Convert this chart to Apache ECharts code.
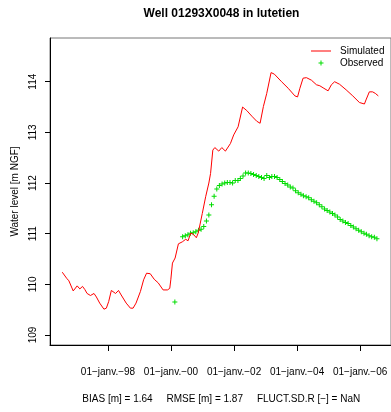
<!DOCTYPE html>
<html>
<head>
<meta charset="utf-8">
<script src="https://cdn.jsdelivr.net/npm/echarts@6/dist/echarts.min.js"></script>
<style>
html,body{margin:0;padding:0;background:#fff;}
#chart{width:391px;height:412px;}
</style>
</head>
<body>
<div id="chart"></div>
<script>
const titleText = 'Well 01293X0048 in lutetien';
const statsText = 'BIAS [m] = 1.64     RMSE [m] = 1.87     FLUCT.SD.R [\u2212] = NaN';
const yAxisName = 'Water level [m NGF]';
const seriesNames = ['Simulated', 'Observed'];

const simDates = [
  '1996-07-20','1996-09-09','1996-10-05','1996-11-24','1996-12-05','1997-01-09','1997-02-09','1997-03-12',
  '1997-04-07','1997-05-04','1997-06-12','1997-07-05','1997-07-23','1997-08-20','1997-09-27','1997-11-15',
  '1997-12-13','1998-01-09','1998-02-09','1998-03-04','1998-03-30','1998-05-03','1998-06-03','1998-07-31',
  '1998-09-18','1998-10-19','1998-11-22','1999-01-12','1999-02-18','1999-03-24','1999-05-06','1999-06-21',
  '1999-08-06','1999-10-02','1999-11-21','1999-12-18','1999-12-30','2000-01-18','2000-02-18','2000-03-27',
  '2000-05-12','2000-06-20','2000-07-17','2000-08-17','2000-09-16','2000-10-21','2000-11-13','2000-12-02',
  '2000-12-29','2001-02-06','2001-03-15','2001-04-04','2001-04-30','2001-05-23','2001-07-08','2001-08-12',
  '2001-09-23','2001-11-20','2001-12-28','2002-02-17','2002-04-10','2002-05-29','2002-07-26','2002-09-21',
  '2002-10-30','2002-12-07','2003-01-15','2003-03-06','2003-04-13','2003-07-06','2003-09-21','2003-12-07',
  '2004-01-07','2004-02-03','2004-03-11','2004-04-19','2004-06-16','2004-08-13','2004-09-21','2004-10-29',
  '2004-12-26','2005-02-02','2005-03-12','2005-05-08','2005-07-23','2005-10-08','2005-12-24','2006-02-20',
  '2006-03-10','2006-04-18','2006-05-26','2006-06-26','2006-07-31'
];
const simValues = [
  110.24,110.12,110.07,109.87,109.86,109.97,109.91,109.96,
  109.90,109.82,109.78,109.80,109.82,109.75,109.63,109.51,
  109.53,109.66,109.88,109.86,109.82,109.88,109.79,109.63,
  109.53,109.53,109.63,109.86,110.09,110.22,110.21,110.10,
  110.03,109.89,109.89,109.92,110.09,110.42,110.52,110.80,
  110.84,110.89,110.86,111.01,110.99,110.92,111.02,111.04,
  111.40,111.73,112.00,112.19,112.65,112.70,112.63,112.70,
  112.63,112.78,112.95,113.11,113.50,113.43,113.32,113.22,
  113.18,113.51,113.77,114.18,114.15,114.00,113.87,113.72,
  113.70,113.87,114.07,114.08,114.03,113.94,113.92,113.88,
  113.82,113.94,114.00,113.95,113.84,113.72,113.59,113.56,
  113.64,113.80,113.80,113.77,113.72
];

const obsDates = [
  '2000-02-15',
  '2000-05-15','2000-06-15','2000-07-15','2000-08-15','2000-09-15','2000-10-15','2000-11-15','2000-12-15',
  '2001-01-15','2001-02-15','2001-03-15','2001-04-15','2001-05-15','2001-06-15','2001-07-15','2001-08-15','2001-09-15','2001-10-15','2001-11-15','2001-12-15',
  '2002-01-15','2002-02-15','2002-03-15','2002-04-15','2002-05-15','2002-06-15','2002-07-15','2002-08-15','2002-09-15','2002-10-15','2002-11-15','2002-12-15',
  '2003-01-15','2003-02-15','2003-03-15','2003-04-15','2003-05-15','2003-06-15','2003-07-15','2003-08-15','2003-09-15','2003-10-15','2003-11-15','2003-12-15',
  '2004-01-15','2004-02-15','2004-03-15','2004-04-15','2004-05-15','2004-06-15','2004-07-15','2004-08-15','2004-09-15','2004-10-15','2004-11-15','2004-12-15',
  '2005-01-15','2005-02-15','2005-03-15','2005-04-15','2005-05-15','2005-06-15','2005-07-15','2005-08-15','2005-09-15','2005-10-15','2005-11-15','2005-12-15',
  '2006-01-15','2006-02-15','2006-03-15','2006-04-15','2006-05-15','2006-06-15','2006-07-15'
];
const obsValues = [
  109.65,
  110.94,110.96,110.98,111.01,111.02,111.04,111.07,111.09,
  111.14,111.25,111.37,111.57,111.74,111.88,111.95,111.98,112.00,112.01,112.01,112.00,
  112.05,112.05,112.09,112.14,112.20,112.20,112.19,112.17,112.15,112.13,112.11,112.09,
  112.15,112.11,112.13,112.13,112.11,112.07,112.03,111.99,111.96,111.92,111.90,111.85,
  111.81,111.78,111.75,111.73,111.71,111.67,111.64,111.61,111.57,111.53,111.49,111.46,
  111.43,111.40,111.37,111.33,111.28,111.25,111.22,111.20,111.16,111.13,111.10,111.07,
  111.04,111.01,110.99,110.96,110.94,110.93,110.90
];

const xTickDates = ['1998-01-01','2000-01-01','2002-01-01','2004-01-01','2006-01-01'];
const yTickValues = [109, 110, 111, 112, 113, 114];

function ts(s) { const p = s.split('-').map(Number); return Date.UTC(p[0], p[1] - 1, p[2]); }
const xTicks = xTickDates.map(ts);

const simData = simDates.map((d, i) => [ts(d), simValues[i]]);
const obsData = obsDates.map((d, i) => [ts(d), obsValues[i]]);

const FONT = 'Liberation Sans, Arial, Helvetica, sans-serif';
const plusPath = 'path://M2,0H3V2H5V3H3V5H2V3H0V2H2Z';
const corners = 'M0,0H0.01V0.01H0Z M19.99,0H20V0.01H19.99Z M0,9.99H0.01V10H0Z M19.99,9.99H20V10H19.99Z';
const legendLineIcon = 'path://M0,4.5H20V5.5H0Z ' + corners;
const legendPlusIcon = 'path://M9.5,2.5H10.5V4.5H12.5V5.5H10.5V7.5H9.5V5.5H7.5V4.5H9.5Z ' + corners;

const chart = echarts.init(document.getElementById('chart'), null, {renderer: 'canvas'});
chart.setOption({
  animation: false,
  backgroundColor: '#ffffff',
  textStyle: {fontFamily: FONT},
  title: [
    {text: titleText, left: 221.5, top: 8, textAlign: 'center', padding: 0,
     textStyle: {fontSize: 12, fontWeight: 'bold', color: '#000', fontFamily: FONT}},
    {text: statsText, left: 221.3, top: 394, textAlign: 'center', padding: 0,
     textStyle: {fontSize: 10, fontWeight: 'normal', color: '#000', fontFamily: FONT}}
  ],
  legend: {
    orient: 'vertical', left: 311, top: 45, padding: 0, itemGap: 0,
    itemWidth: 20, itemHeight: 10, symbolKeepAspect: true,
    textStyle: {fontSize: 10, color: '#000', fontFamily: FONT, lineHeight: 12, padding: [0, 0, 0, 4]},
    data: [
      {name: seriesNames[0], icon: legendLineIcon, itemStyle: {color: '#ff0000'}},
      {name: seriesNames[1], icon: legendPlusIcon, itemStyle: {color: '#00dd00'}}
    ]
  },
  grid: {left: 50, top: 38, width: 343, height: 307, show: true, borderColor: '#777', borderWidth: 1, backgroundColor: 'transparent'},
  xAxis: {
    type: 'value', min: ts('1996-02-29'), max: ts('2006-12-25'),
    axisLine: {show: true, lineStyle: {color: '#000', width: 1}},
    axisTick: {show: true, length: 6, lineStyle: {color: '#000'}, customValues: xTicks},
    axisLabel: {show: true, customValues: xTicks, margin: 22, fontSize: 10, color: '#000', fontFamily: FONT,
      formatter: v => { const d = new Date(v); return '01\u2212janv.\u2212' + String(d.getUTCFullYear() % 100).padStart(2, '0'); }},
    splitLine: {show: false}
  },
  yAxis: {
    type: 'value', min: 108.803, max: 114.863,
    name: yAxisName, nameLocation: 'middle', nameRotate: 90, nameGap: 30,
    nameTextStyle: {fontSize: 10, color: '#000', fontFamily: FONT},
    axisLine: {show: true, lineStyle: {color: '#000', width: 1}},
    axisTick: {show: true, length: 5, lineStyle: {color: '#000'}, customValues: yTickValues},
    axisLabel: {show: true, customValues: yTickValues, rotate: 90, margin: 12, fontSize: 10, color: '#000', fontFamily: FONT},
    splitLine: {show: false}
  },
  series: [
    {name: seriesNames[0], type: 'line', data: simData, symbol: 'none', showSymbol: false,
     lineStyle: {color: '#ff0000', width: 1}, itemStyle: {color: '#ff0000'}},
    {name: seriesNames[1], type: 'scatter', data: obsData, symbol: plusPath, symbolSize: 5,
     itemStyle: {color: '#00dd00', opacity: 1}}
  ]
});
</script>
</body>
</html>
